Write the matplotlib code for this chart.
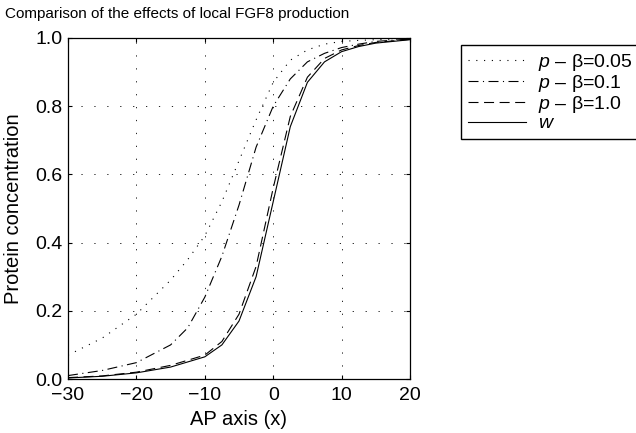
import numpy as np
import matplotlib
matplotlib.use('Agg')
import matplotlib.pyplot as plt

plt.rcParams['font.family'] = ['Liberation Sans', 'DejaVu Sans']
plt.rcParams['mathtext.fontset'] = 'custom'
plt.rcParams['mathtext.it'] = 'Liberation Sans:italic'
plt.rcParams['mathtext.rm'] = 'Liberation Sans'

# values
x = [-30, -25, -20, -15, -12.5, -10, -7.5, -5, -2.5, 0, 2.5, 5, 7.5, 10, 12.5, 15, 20]
beta005 = [0.07, 0.12, 0.19, 0.29, 0.35, 0.42, 0.52, 0.64, 0.76, 0.87, 0.935, 0.965, 0.982, 0.99, 0.993, 0.995, 0.998]
beta01 = [0.01, 0.025, 0.048, 0.10, 0.15, 0.24, 0.36, 0.51, 0.68, 0.80, 0.88, 0.93, 0.955, 0.972, 0.982, 0.99, 0.997]
beta1 = [0.004, 0.009, 0.02, 0.04, 0.055, 0.07, 0.11, 0.19, 0.33, 0.56, 0.77, 0.885, 0.94, 0.965, 0.978, 0.987, 0.996]
wild = [0.003, 0.008, 0.018, 0.035, 0.05, 0.065, 0.10, 0.17, 0.30, 0.52, 0.74, 0.87, 0.93, 0.96, 0.975, 0.985, 0.995]

labels = [r'$p$ – β=0.05', r'$p$ – β=0.1', r'$p$ – β=1.0', r'$w$']

fig = plt.figure(figsize=(6.36, 4.33), dpi=100)
ax = fig.add_axes([68 / 636, 1 - 379 / 433, (410 - 68) / 636, (379 - 38) / 433])

lw = 0.8
ax.plot(x, beta005, color='black', linestyle=(0, (1, 6)), linewidth=lw, label=labels[0])
ax.plot(x, beta01, color='black', linestyle=(0, (9, 4, 1, 4)), linewidth=lw, label=labels[1])
ax.plot(x, beta1, color='black', linestyle=(0, (9, 5)), linewidth=lw, label=labels[2])
ax.plot(x, wild, color='black', linestyle='-', linewidth=lw, label=labels[3])

ax.set_xlim(-30, 20)
ax.set_ylim(0, 1)
ax.set_xticks(np.arange(-30, 21, 10))
ax.set_yticks(np.arange(0, 1.01, 0.2))
ax.set_xticklabels(['\u221230', '\u221220', '\u221210', '0', '10', '20'])
ax.set_yticklabels(['0.0', '0.2', '0.4', '0.6', '0.8', '1.0'])
ax.tick_params(direction='in', top=True, right=True, labelsize=14, length=3)
ax.tick_params(axis='x', pad=6)
ax.tick_params(axis='y', pad=4)
ax.grid(True, color='black', linestyle=(0, (1.5, 14)), linewidth=0.6)
for s in ax.spines.values():
    s.set_linewidth(0.9)

ax.set_xlabel('AP axis (x)', fontsize=14.5)
ax.set_ylabel('Protein concentration', fontsize=14.5)
ax.xaxis.set_label_coords(0.5, -(410 - 379) / 341)
ax.yaxis.set_label_coords(-(68 - 23) / 342, 0.5)
fig.text(5 / 636, 1 - 14 / 433, 'Comparison of the effects of local FGF8 production',
         fontsize=11, va='center', ha='left')

leg = fig.legend(loc='upper left', bbox_to_anchor=(461 / 636, 1 - 45 / 433), fontsize=14,
                 fancybox=False, framealpha=1, edgecolor='black', handlelength=3.0,
                 labelspacing=0.0, borderpad=0.35, handletextpad=0.6, borderaxespad=0)
leg.get_frame().set_linewidth(1.0)

fig.savefig('out.png', dpi=100)
